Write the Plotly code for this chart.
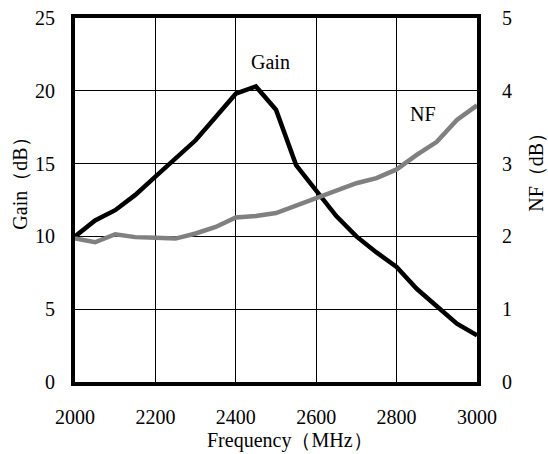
import plotly.graph_objects as go

freq = [2000, 2050, 2100, 2150, 2200, 2250, 2300, 2350, 2400, 2450, 2500,
        2550, 2600, 2650, 2700, 2750, 2800, 2850, 2900, 2950, 3000]
gain = [10.0, 11.1, 11.8, 12.85, 14.1, 15.4, 16.6, 18.2, 19.8, 20.3, 18.7,
        14.9, 13.2, 11.4, 10.0, 8.9, 7.9, 6.4, 5.2, 4.0, 3.2]
nf = [1.97, 1.92, 2.03, 1.99, 1.98, 1.97, 2.04, 2.13, 2.26, 2.28, 2.32,
      2.42, 2.52, 2.63, 2.73, 2.80, 2.92, 3.12, 3.30, 3.60, 3.80]

x_ticks = [2000, 2200, 2400, 2600, 2800, 3000]
gain_ticks = [0, 5, 10, 15, 20, 25]
nf_ticks = [0, 1, 2, 3, 4, 5]

FONT = "Liberation Serif"

fig = go.Figure()
fig.add_trace(go.Scatter(x=freq, y=nf, yaxis="y2", mode="lines",
                         line=dict(color="#808080", width=4.5), showlegend=False))
fig.add_trace(go.Scatter(x=freq, y=gain, mode="lines",
                         line=dict(color="black", width=4.5), showlegend=False))

fig.add_annotation(x=2487, y=22.0, text="Gain", showarrow=False,
                   font=dict(family=FONT, size=20, color="black"))
fig.add_annotation(x=2866, y=18.4, text="NF", showarrow=False,
                   font=dict(family=FONT, size=20, color="black"),
                   bgcolor="white", borderpad=4)

# axis titles
fig.add_annotation(xref="paper", yref="paper", x=-0.139, y=0.559,
                   text="Gain（dB）", textangle=-90, showarrow=False,
                   xanchor="center", yanchor="middle",
                   font=dict(family=FONT, size=20, color="black"))
fig.add_annotation(xref="paper", yref="paper", x=1.147, y=0.589,
                   text="NF（dB）", textangle=-90, showarrow=False,
                   xanchor="center", yanchor="middle",
                   font=dict(family=FONT, size=20, color="black"))
fig.add_annotation(xref="paper", yref="paper", x=0.535, y=-0.161,
                   text="Frequency（MHz）", showarrow=False,
                   xanchor="center", yanchor="middle",
                   font=dict(family=FONT, size=20, color="black"))

fig.update_layout(
    width=548, height=454,
    margin=dict(l=75, r=71, t=18, b=72),
    paper_bgcolor="white", plot_bgcolor="white",
    font=dict(family=FONT, size=20, color="black"),
    xaxis=dict(range=[2000, 3000], tickvals=x_ticks, showgrid=True,
               gridcolor="black", gridwidth=1.2, zeroline=False,
               showline=True, linecolor="black", linewidth=4, mirror=True,
               ticks="", ticklabelstandoff=14, automargin=False),
    yaxis=dict(range=[0, 25], tickvals=gain_ticks, showgrid=True,
               gridcolor="black", gridwidth=1.2, zeroline=False,
               showline=True, linecolor="black", linewidth=4, mirror=True,
               ticks="", ticklabelstandoff=12, automargin=False),
    yaxis2=dict(range=[0, 5], tickvals=nf_ticks, overlaying="y", side="right",
                showgrid=False, zeroline=False, showline=False,
                ticks="", ticklabelstandoff=24, automargin=False),
)

fig.write_html(
    "out.html",
    config={"displayModeBar": False},
    post_script="document.body.style.margin='0px';document.body.style.padding='0px';"
                "document.body.style.overflow='hidden';",
)
